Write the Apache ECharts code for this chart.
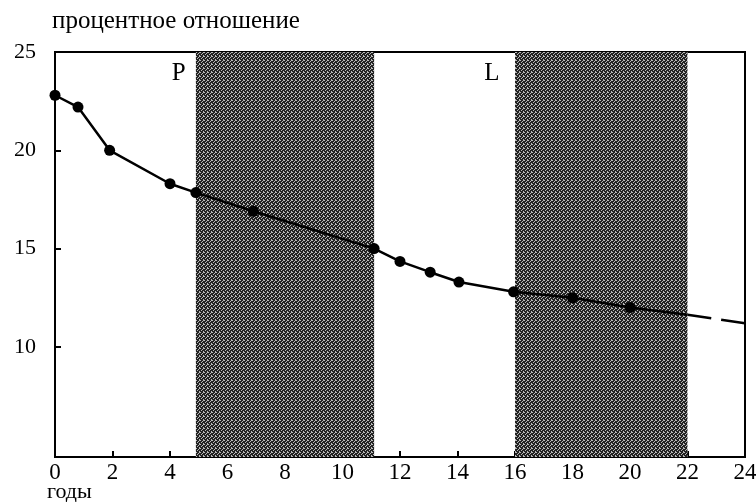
<!DOCTYPE html>
<html>
<head>
<meta charset="utf-8">
<script src="https://cdn.jsdelivr.net/npm/echarts@6/dist/echarts.min.js"></script>
<style>html,body{margin:0;padding:0;background:#fff}#c{width:756px;height:502px}</style>
</head>
<body>
<div id="c"></div>
<script>
// Data
const years = [0, 0.8, 1.9, 4, 4.9, 6.9, 11.1, 12, 13.05, 14.05, 15.95, 18, 20];
const ratio = [22.8, 22.2, 20.0, 18.3, 17.85, 16.9, 15.0, 14.35, 13.8, 13.3, 12.8, 12.5, 12.0];
const solidTailX = [20, 22];
const solidTailY = [12.0, 11.63];
const dashedX = [22, 24];
const dashedY = [11.63, 11.2];
const shadedPeriods = [[4.9, 11.1], [16, 22]];
const periodLabels = ['P', 'L'];
const periodLabelX = [4.3, 15.2];
const periodLabelY = 23.9;
const yTicks = [10, 15, 20, 25];
const yTitle = 'процентное отношение';
const xTitle = 'годы';

function pattern() {
  const c = document.createElement('canvas');
  c.width = 4; c.height = 4;
  const ctx = c.getContext('2d');
  ctx.fillStyle = '#222';
  ctx.fillRect(0, 0, 4, 4);
  ctx.fillStyle = '#b8b8b8';
  [[0,0],[2,1],[1,2],[3,3],[3,0]].forEach(p => ctx.fillRect(p[0], p[1], 1, 1));
  return c;
}
const pat = pattern();

const chart = echarts.init(document.getElementById('c'), null, {renderer: 'canvas'});
const font = 'Liberation Serif';
chart.setOption({
  animation: false,
  grid: {left: 55, right: 11, top: 52, bottom: 45, show: true, borderColor: '#000', borderWidth: 2,
         containLabel: false, outerBoundsMode: 'none'},
  xAxis: {
    type: 'value', min: 0, max: 24, interval: 2,
    axisLine: {lineStyle: {color: '#000', width: 2}},
    axisTick: {inside: true, length: 6, lineStyle: {color: '#000', width: 2}},
    axisLabel: {color: '#000', fontFamily: font, fontSize: 23, margin: 4},
    splitLine: {show: false}
  },
  yAxis: {
    type: 'value', min: 4.4, max: 25,
    axisLine: {show: true, lineStyle: {color: '#000', width: 2}},
    axisTick: {show: true, inside: true, length: 6, customValues: yTicks, lineStyle: {color: '#000', width: 2}},
    axisLabel: {color: '#000', fontFamily: font, fontSize: 22, margin: 19, customValues: yTicks},
    splitLine: {show: false}
  },
  graphic: [{
    type: 'text', left: 52, top: 9,
    style: {text: yTitle, font: '25px "Liberation Serif"', fill: '#000'}
  }, {
    type: 'text', left: 47, top: 481,
    style: {text: xTitle, font: '22px "Liberation Serif"', fill: '#000'}
  }],
  series: [
    {
      type: 'line', data: years.map((x, i) => [x, ratio[i]]),
      symbol: 'circle', symbolSize: 11,
      itemStyle: {color: '#000'}, lineStyle: {color: '#000', width: 2.5},
      z: 5,
      markArea: {
        silent: true,
        itemStyle: {color: {image: pat, repeat: 'repeat'}},
        data: shadedPeriods.map(p => [{xAxis: p[0]}, {xAxis: p[1]}])
      },
      markPoint: {
        symbol: 'circle', symbolSize: 0,
        label: {show: true, color: '#000', fontFamily: font, fontSize: 25, formatter: p => p.name},
        data: periodLabels.map((t, i) => ({name: t, coord: [periodLabelX[i], periodLabelY]}))
      }
    },
    {
      type: 'line', data: solidTailX.map((x, i) => [x, solidTailY[i]]),
      symbol: 'none', lineStyle: {color: '#000', width: 2.5}, z: 5
    },
    {
      type: 'line', data: dashedX.map((x, i) => [x, dashedY[i]]),
      symbol: 'none', lineStyle: {color: '#000', width: 2.5, type: [24, 10]}, z: 5
    }
  ]
});
</script>
</body>
</html>
